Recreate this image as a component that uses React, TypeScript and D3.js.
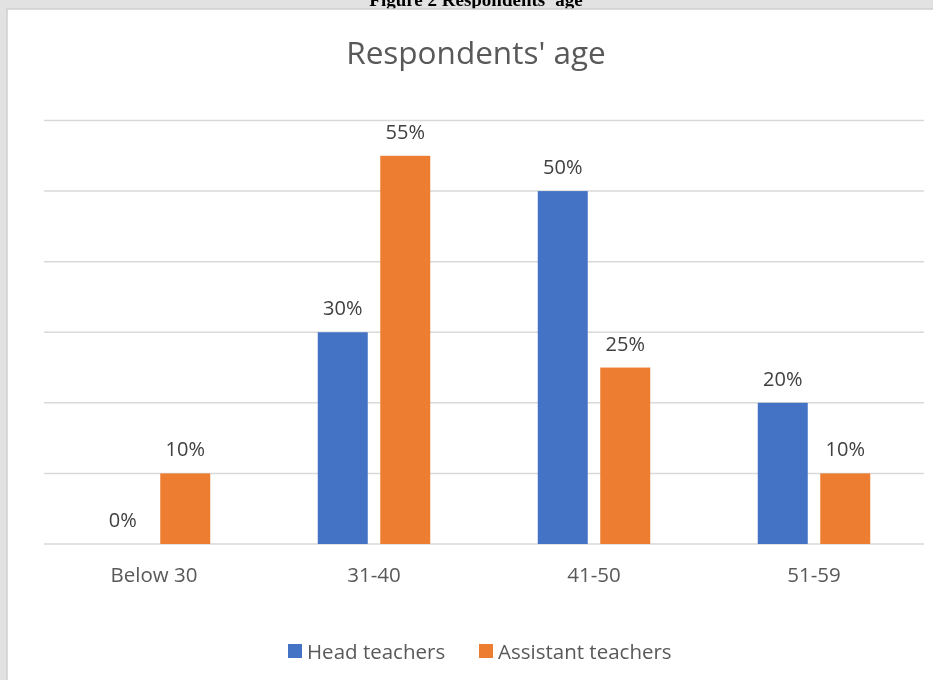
import React from "react";
import * as d3 from "d3";

const categories = ["Below 30", "31-40", "41-50", "51-59"];
const seriesNames = ["Head teachers", "Assistant teachers"];
const headTeachers = [0, 30, 50, 20];
const assistantTeachers = [10, 55, 25, 10];
const yTicks = [0, 10, 20, 30, 40, 50, 60];
const colors = ["#4472C4", "#ED7D31"];

const W = 933;
const H = 680;
const FONT = "'Open Sans', 'Noto Sans', sans-serif";

export default function App() {
  const x = d3.scaleBand<string>().domain(categories).range([44, 924]).padding(0);
  const y = d3.scaleLinear().domain([0, 60]).range([544, 120.5]);
  const barW = 50;
  const gap = 12.5;
  const series = [headTeachers, assistantTeachers];

  return (
    <div style={{ position: "fixed", left: 0, top: 0 }}>
      <svg width={W} height={H} style={{ display: "block" }}>
        <rect x={0} y={0} width={W} height={H} fill="#e2e2e2" />
        <text
          x={476}
          y={6}
          textAnchor="middle"
          fontFamily="'Liberation Serif', 'Times New Roman', serif"
          fontWeight="bold"
          fontSize={19}
          fill="#000"
        >
          Figure 2 Respondents' age
        </text>
        <rect x={7} y={9} width={W} height={H} fill="#ffffff" stroke="#d0d0d0" strokeWidth={1.5} />
        <text x={476} y={63.5} textAnchor="middle" fontFamily={FONT} fontSize={31.5} fill="#595959">
          Respondents' age
        </text>
        {yTicks.map((t) => (
          <line key={t} x1={44} x2={924} y1={y(t)} y2={y(t)} stroke="#d9d9d9" strokeWidth={1.5} />
        ))}
        {categories.map((c, i) => {
          const cx = (x(c) as number) + x.bandwidth() / 2;
          return (
            <g key={c}>
              {series.map((s, j) => {
                const bx = j === 0 ? cx - gap / 2 - barW : cx + gap / 2;
                const v = s[i];
                return (
                  <g key={j}>
                    <rect x={bx} y={y(v)} width={barW} height={y(0) - y(v)} fill={colors[j]} />
                    <text
                      x={bx + barW / 2}
                      y={y(v) - 17}
                      textAnchor="middle"
                      fontFamily={FONT}
                      fontSize={20}
                      fill="#404040"
                    >
                      {v}%
                    </text>
                  </g>
                );
              })}
              <text x={cx} y={582} textAnchor="middle" fontFamily={FONT} fontSize={20.5} fill="#595959">
                {c}
              </text>
            </g>
          );
        })}
        {seriesNames.map((n, j) => {
          const lx = j === 0 ? 288 : 479;
          return (
            <g key={n}>
              <rect x={lx} y={644} width={14} height={14} fill={colors[j]} />
              <text x={lx + 19} y={659} fontFamily={FONT} fontSize={20.5} fill="#595959">
                {n}
              </text>
            </g>
          );
        })}
      </svg>
    </div>
  );
}
